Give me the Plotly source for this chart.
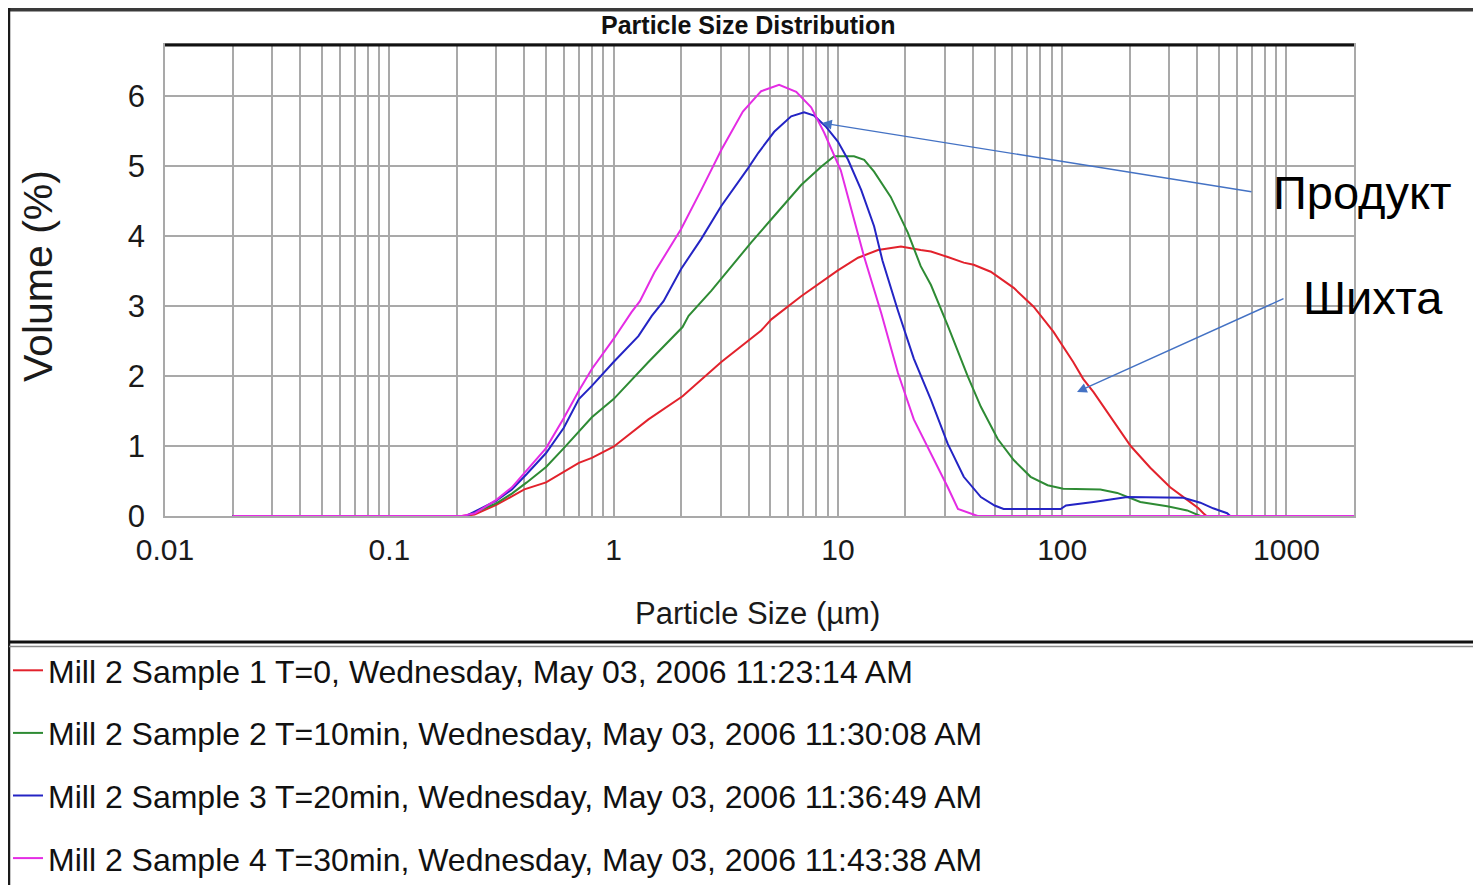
import math
import plotly.graph_objects as go

# ---------------- data ----------------
SERIES_NAMES = [
    "Mill 2 Sample 1 T=0, Wednesday, May 03, 2006 11:23:14 AM",
    "Mill 2 Sample 2 T=10min, Wednesday, May 03, 2006 11:30:08 AM",
    "Mill 2 Sample 3 T=20min, Wednesday, May 03, 2006 11:36:49 AM",
    "Mill 2 Sample 4 T=30min, Wednesday, May 03, 2006 11:43:38 AM",
]
COLORS = ["#E2222C", "#2E8B34", "#2424C4", "#E42CE4"]

S1_X = [0.02, 0.211, 0.24, 0.3, 0.352, 0.4, 0.5, 0.6, 0.7, 0.8, 1.0, 1.43, 2.03, 3.02, 3.98,
        4.55, 5.05, 6.86, 10.0, 12.3, 15.1, 19.1, 23.4, 26.0, 30.9, 36.4, 40.3, 48.0, 60.8,
        74.6, 91.5, 112, 124, 138, 169, 202, 247, 303, 361, 405, 426, 440, 2000]
S1_Y = [0, 0, 0.02, 0.16, 0.28, 0.38, 0.48, 0.63, 0.76, 0.83, 0.99, 1.38, 1.71, 2.2, 2.5,
        2.65, 2.81, 3.14, 3.51, 3.69, 3.8, 3.85, 3.8, 3.78, 3.7, 3.62, 3.59, 3.49, 3.26,
        2.99, 2.63, 2.2, 1.96, 1.77, 1.36, 1.0, 0.69, 0.41, 0.23, 0.11, 0.04, 0, 0]

S2_X = [0.02, 0.22, 0.3, 0.352, 0.41, 0.5, 0.6, 0.7, 0.8, 1.0, 1.43, 2.03, 2.16, 2.73, 3.45,
        4.11, 5.05, 6.0, 6.86, 8.42, 9.62, 11.8, 13.1, 14.5, 17.2, 20.5, 23.4, 26.0, 30.9,
        37.9, 43.4, 51.6, 60.8, 72.3, 86.1, 101, 148, 176, 223, 294, 361, 413, 2000]
S2_Y = [0, 0, 0.18, 0.32, 0.48, 0.7, 0.97, 1.2, 1.41, 1.67, 2.2, 2.7, 2.86, 3.22, 3.62,
        3.91, 4.24, 4.52, 4.73, 4.99, 5.14, 5.14, 5.09, 4.92, 4.56, 4.05, 3.57, 3.3, 2.72,
        2.0, 1.56, 1.1, 0.8, 0.56, 0.44, 0.39, 0.38, 0.33, 0.2, 0.14, 0.08, 0, 0]

S3_X = [0.02, 0.22, 0.3, 0.352, 0.41, 0.5, 0.6, 0.7, 0.8, 1.0, 1.29, 1.48, 1.67, 2.0, 2.46,
        3.02, 3.98, 4.42, 5.2, 6.19, 7.07, 7.84, 8.86, 10.0, 11.1, 12.7, 14.5, 15.8, 18.5,
        21.8, 26.0, 30.9, 36.4, 43.4, 50.0, 54.8, 98.4, 104, 138, 195, 347, 413, 471, 544,
        561, 2000]
S3_Y = [0, 0, 0.22, 0.38, 0.6, 0.9, 1.26, 1.67, 1.86, 2.2, 2.57, 2.86, 3.07, 3.53, 3.96,
        4.43, 4.97, 5.19, 5.49, 5.71, 5.77, 5.72, 5.56, 5.35, 5.09, 4.66, 4.14, 3.65, 2.94,
        2.25, 1.66, 1.03, 0.56, 0.27, 0.15, 0.1, 0.1, 0.15, 0.2, 0.27, 0.26, 0.19, 0.11, 0.04,
        0, 0]

S4_X = [0.02, 0.211, 0.241, 0.3, 0.352, 0.41, 0.5, 0.6, 0.7, 0.8, 1.0, 1.2, 1.31, 1.52, 2.0,
        2.46, 3.02, 3.77, 4.55, 5.47, 6.52, 7.6, 8.68, 10.3, 11.8, 13.1, 15.6, 18.5, 21.8,
        26.0, 30.9, 34.3, 37.9, 42.0, 2000]
S4_Y = [0, 0, 0.04, 0.23, 0.41, 0.65, 0.97, 1.4, 1.79, 2.1, 2.53, 2.91, 3.07, 3.48, 4.1,
        4.66, 5.23, 5.78, 6.07, 6.16, 6.06, 5.84, 5.48, 4.94, 4.24, 3.7, 2.9, 2.05, 1.38,
        0.9, 0.41, 0.1, 0.05, 0, 0]

SERIES_X = [S1_X, S2_X, S3_X, S4_X]
SERIES_Y = [S1_Y, S2_Y, S3_Y, S4_Y]

DECADES = [0.01, 0.1, 1, 10, 100, 1000]
DECADE_LABELS = ["0.01", "0.1", "1", "10", "100", "1000"]
Y_TICKS = [0, 1, 2, 3, 4, 5, 6]
X_MIN, X_MAX = 0.01, 2000
Y_MIN, Y_MAX = 0, 6.73

TITLE = "Particle Size Distribution"
X_TITLE = "Particle Size (µm)"
Y_TITLE = "Volume (%)"
NOTE_PRODUCT = "Продукт"
NOTE_CHARGE = "Шихта"

# ---------------- styling / geometry ----------------
FONT = "Liberation Sans, Arial, sans-serif"
GRID = "#a9a9a9"
ARROW = "#4472C4"

OFF = 8                      # default page margin of the html body
W, H = 1481 - OFF, 885 - OFF  # figure size (avoids scrollbars)
L, T = 165 - OFF, 45 - OFF
R = W - (1354 - OFF)
B = H - (516 - OFF)
PW, PH = W - L - R, H - T - B


def px_x(p):
    """reference-picture x pixel -> paper fraction"""
    return (p - OFF - L) / PW


def px_y(p):
    """reference-picture y pixel -> paper fraction"""
    return (H - B - (p - OFF)) / PH


# grid positions (1..9 per decade), labels only on decades
grid_vals, grid_text = [], []
for d, lab in zip(DECADES, DECADE_LABELS):
    for m in range(1, 10):
        v = d * m
        if v <= X_MAX:
            grid_vals.append(v)
            grid_text.append(lab if m == 1 else "")

fig = go.Figure()
for name, xs, ys, col in zip(SERIES_NAMES, SERIES_X, SERIES_Y, COLORS):
    fig.add_trace(go.Scatter(x=xs, y=ys, mode="lines", name=name,
                             legendgroup=name,
                             line=dict(color=col, width=2)))

fig.update_xaxes(type="log", range=[math.log10(X_MIN), math.log10(X_MAX)],
                 tickmode="array", tickvals=grid_vals, ticktext=grid_text,
                 tickangle=0,
                 showgrid=True, gridcolor=GRID, gridwidth=1.5,
                 showline=True, linecolor=GRID, linewidth=1.5, mirror=True,
                 zeroline=False, ticks="",
                 tickfont=dict(family=FONT, size=30, color="#1a1a1a"),
                 ticklabelstandoff=6)
fig.update_yaxes(range=[Y_MIN, Y_MAX], tickmode="array", tickvals=Y_TICKS,
                 ticktext=[str(v) for v in Y_TICKS],
                 showgrid=True, gridcolor=GRID, gridwidth=1.5,
                 showline=True, linecolor=GRID, linewidth=1.5, mirror=True,
                 zeroline=False, ticks="",
                 tickfont=dict(family=FONT, size=31, color="#1a1a1a"),
                 ticklabelstandoff=12)

FRAME_LEFT = OFF + 1
shapes = [
    # plot top edge (black)
    dict(type="line", xref="paper", yref="paper", x0=0, x1=1, y0=1, y1=1,
         line=dict(color="#111111", width=3), layer="above"),
    # outer frame: top
    dict(type="line", xref="paper", yref="paper", x0=px_x(0), x1=px_x(1490),
         y0=px_y(OFF + 1.5), y1=px_y(OFF + 1.5), line=dict(color="#3a3a3a", width=4)),
    # outer frame: left
    dict(type="line", xref="paper", yref="paper", x0=px_x(FRAME_LEFT), x1=px_x(FRAME_LEFT),
         y0=px_y(OFF), y1=px_y(900), line=dict(color="#1a1a1a", width=2.5)),
    # legend separator (double)
    dict(type="line", xref="paper", yref="paper", x0=px_x(FRAME_LEFT), x1=px_x(1490),
         y0=px_y(642), y1=px_y(642), line=dict(color="#111111", width=3)),
    dict(type="line", xref="paper", yref="paper", x0=px_x(FRAME_LEFT), x1=px_x(1490),
         y0=px_y(646.5), y1=px_y(646.5), line=dict(color="#8a8a8a", width=1.5)),
]

annotations = [
    dict(text="<b>" + TITLE + "</b>", xref="paper", yref="paper",
         x=px_x(748), y=px_y(25), showarrow=False, xanchor="center", yanchor="middle",
         font=dict(family=FONT, size=25, color="#111111")),
    dict(text=X_TITLE, xref="paper", yref="paper", x=px_x(757), y=px_y(613),
         showarrow=False, xanchor="center", yanchor="middle",
         font=dict(family=FONT, size=31, color="#1a1a1a")),
    dict(text=Y_TITLE, xref="paper", yref="paper", x=px_x(38), y=px_y(276),
         showarrow=False, xanchor="center", yanchor="middle", textangle=-90,
         font=dict(family=FONT, size=41, color="#1a1a1a")),
    dict(text=NOTE_PRODUCT, xref="paper", yref="paper", x=px_x(1271), y=px_y(192),
         showarrow=False, xanchor="left", yanchor="middle",
         font=dict(family=FONT, size=47, color="#000000")),
    dict(text=NOTE_CHARGE, xref="paper", yref="paper", x=px_x(1301), y=px_y(297),
         showarrow=False, xanchor="left", yanchor="middle",
         font=dict(family=FONT, size=47, color="#000000")),
    # arrows
    dict(text="", xref="paper", yref="paper", x=px_x(822), y=px_y(123),
         ax=1253 - 822, ay=192 - 123, showarrow=True, arrowhead=2, arrowsize=1.4,
         arrowwidth=1.4, arrowcolor=ARROW),
    dict(text="", xref="paper", yref="paper", x=px_x(1077), y=px_y(392),
         ax=1285 - 1077, ay=298 - 392, showarrow=True, arrowhead=2, arrowsize=1.4,
         arrowwidth=1.4, arrowcolor=ARROW),
]

fig.update_layout(
    width=W, height=H, autosize=False,
    margin=dict(l=L, r=R, t=T, b=B, autoexpand=False),
    paper_bgcolor="white", plot_bgcolor="white",
    shapes=shapes, annotations=annotations,
    showlegend=True,
    legend=dict(xref="container", yref="container", x=0.0, y=1 - (643 - OFF) / H,
                xanchor="left", yanchor="top", traceorder="grouped",
                tracegroupgap=18, itemwidth=30, bgcolor="rgba(0,0,0,0)",
                borderwidth=0,
                font=dict(family=FONT, size=32, color="#111111")),
)

fig.write_html("out.html")
